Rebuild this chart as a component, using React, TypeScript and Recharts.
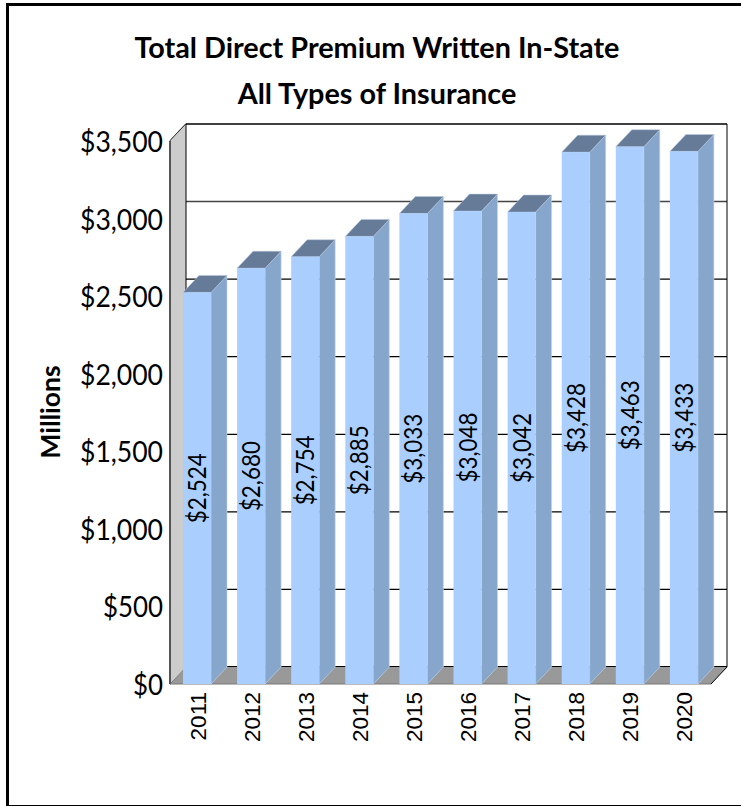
import { BarChart, Bar, XAxis, YAxis, CartesianGrid, LabelList, usePlotArea } from 'recharts'

const years = ['2011', '2012', '2013', '2014', '2015', '2016', '2017', '2018', '2019', '2020']
const premiums = [2524, 2680, 2754, 2885, 3033, 3048, 3042, 3428, 3463, 3433]
const yTicks = [0, 500, 1000, 1500, 2000, 2500, 3000, 3500]
const titleLines = ['Total Direct Premium Written In-State', 'All Types of Insurance']

const data = years.map((year, i) => ({ year, premium: premiums[i] }))

const DX = 16
const DY = 17
const FONT = 'Lato, sans-serif'
const money = (v: number) => '$' + v.toLocaleString('en-US')

// back wall, side wall and floor of the fake 3D box
function Walls() {
  const p = usePlotArea()
  if (!p) return null
  const { x, y, width: w, height: h } = p
  const b = y + h
  return (
    <g>
      <polygon points={`${x},${y} ${x + DX},${y - DY} ${x + DX},${b - DY} ${x},${b}`} fill="#CCCCCC" />
      <polygon points={`${x},${b} ${x + DX},${b - DY} ${x + w + DX},${b - DY} ${x + w},${b}`} fill="#999999" />
      <line x1={x + DX} y1={y - DY} x2={x + DX} y2={b - DY} stroke="#000" strokeWidth={1} />
      <line x1={x + w + DX} y1={y - DY} x2={x + w + DX} y2={b - DY} stroke="#000" strokeWidth={1} />
      <line x1={x} y1={y} x2={x} y2={b} stroke="#555" strokeWidth={2} />
      <line x1={x} y1={b} x2={x + w} y2={b} stroke="#777" strokeWidth={1} />
      <line x1={x + w} y1={b} x2={x + w + DX} y2={b - DY} stroke="#000" strokeWidth={1} />
    </g>
  )
}

function GridLine(props: any) {
  const { x1, x2, y1 } = props
  const atFloor = Math.abs(y1 - 684) < 1
  const is3000 = Math.abs(y1 - 218.6) < 1.5
  return (
    <g>
      <line x1={x1} y1={y1} x2={x1 + DX} y2={y1 - DY} stroke="#000" strokeWidth={1.2} />
      <line
        x1={x1 + DX}
        y1={y1 - DY}
        x2={x2 + DX}
        y2={y1 - DY}
        stroke={is3000 ? '#444' : '#000'}
        strokeWidth={atFloor ? 2 : is3000 ? 1.6 : 1.3}
      />
    </g>
  )
}

function Bar3D(props: any) {
  const { x, y, width, height } = props
  const r = x + width
  const b = y + height
  return (
    <g>
      <polygon
        points={`${r},${y} ${r + DX},${y - DY} ${r + DX},${b - DY} ${r},${b}`}
        fill="#87A6CC"
        stroke="#C4D6EE"
        strokeWidth={0.6}
      />
      <polygon
        points={`${x},${y} ${x + DX},${y - DY} ${r + DX},${y - DY} ${r},${y}`}
        fill="#667B98"
        stroke="#B8CBE4"
        strokeWidth={0.5}
      />
      <rect x={x} y={y} width={width} height={height} fill="#AACFFF" />
    </g>
  )
}

function BarValue(props: any) {
  const { x, y, width, height, value } = props
  const cx = x + width / 2
  const cy = y + height / 2
  return (
    <text
      transform={`translate(${cx + 9},${cy}) rotate(-90)`}
      textAnchor="middle"
      fontFamily={FONT}
      fontSize={25}
      textLength={70}
      lengthAdjust="spacingAndGlyphs"
      fill="#000"
    >
      {money(value)}
    </text>
  )
}

function YTick(props: any) {
  const { y, payload } = props
  const label = money(payload.value)
  const digits = label.replace(',', '').length
  return (
    <text
      x={163}
      y={y + 11}
      textAnchor="end"
      fontFamily={FONT}
      fontSize={28}
      textLength={digits * 15 + (label.includes(',') ? 8 : 0)}
      lengthAdjust="spacingAndGlyphs"
      fill="#000"
    >
      {label}
    </text>
  )
}

function XTick(props: any) {
  const { x, payload } = props
  return (
    <text
      transform={`translate(${x + 8.5},692) rotate(-90)`}
      textAnchor="end"
      fontFamily="'Liberation Sans', sans-serif"
      fontSize={22.5}
      fill="#000"
    >
      {payload.value}
    </text>
  )
}

export default function App() {
  return (
    <div style={{ position: 'absolute', left: 0, top: 0, width: 741, height: 806, overflow: 'hidden', background: '#fff' }}>
      <div
        style={{
          position: 'absolute',
          left: 6,
          top: 3,
          width: 800,
          height: 805,
          boxSizing: 'border-box',
          border: '3px solid #000',
        }}
      />
      <div style={{ position: 'absolute', left: 0, top: 0 }}>
        <BarChart
          width={741}
          height={806}
          data={data}
          margin={{ top: 141, right: 30, bottom: 0, left: 0 }}
          barSize={28}
        >
          <Walls />
          <CartesianGrid vertical={false} horizontal={<GridLine />} />
          <XAxis dataKey="year" axisLine={false} tickLine={false} interval={0} height={122} tick={<XTick />} />
          <YAxis
            type="number"
            domain={[0, 3500]}
            ticks={yTicks}
            width={170}
            axisLine={false}
            tickLine={false}
            tick={<YTick />}
          />
          <Bar dataKey="premium" shape={<Bar3D />} isAnimationActive={false}>
            <LabelList dataKey="premium" content={<BarValue />} />
          </Bar>
          {titleLines.map((line, i) => (
            <text
              key={line}
              x={377}
              y={58 + i * 46}
              textAnchor="middle"
              fontFamily={FONT}
              fontWeight={700}
              fontSize={28.8}
              fill="#000"
            >
              {line}
            </text>
          ))}
          <text
            transform="translate(60,412) rotate(-90)"
            textAnchor="middle"
            fontFamily={FONT}
            fontWeight={700}
            fontSize={26.5}
            fill="#000"
          >
            Millions
          </text>
        </BarChart>
      </div>
    </div>
  )
}
